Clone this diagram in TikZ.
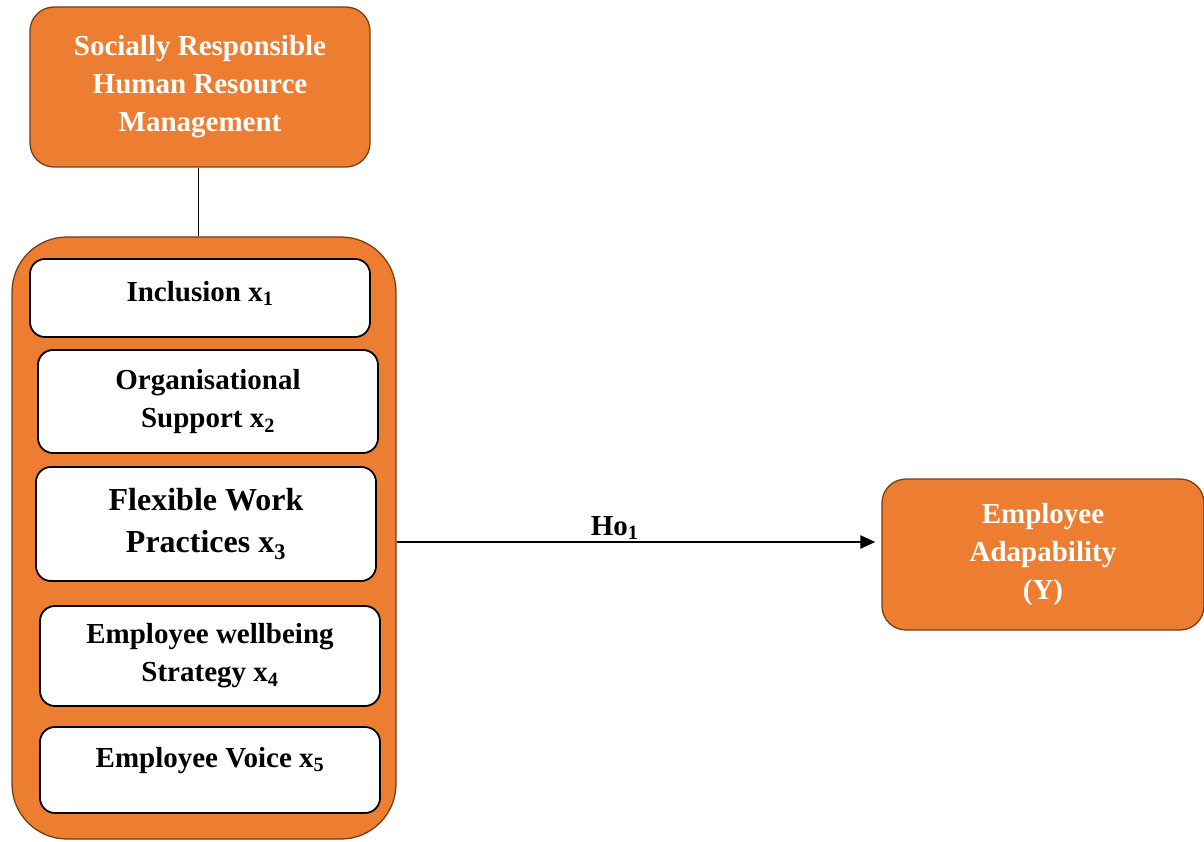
\documentclass[tikz,border=0pt]{standalone}
\usepackage{fontspec}
\setmainfont{Liberation Serif}
\usepackage{tikz}
\usetikzlibrary{arrows.meta}

\definecolor{srorange}{RGB}{237,125,49}
\definecolor{srbrown}{RGB}{120,62,22}

\begin{document}
\begin{tikzpicture}[x=1pt, y=-1pt,
    orangebox/.style={draw=srbrown, line width=1.3pt, fill=srorange, rounded corners=24pt,
        text=white, align=center, font=\fontsize{29}{38}\selectfont\bfseries, inner sep=0pt},
    itembox/.style={draw=black, line width=1.8pt, fill=white, rounded corners=15pt,
        minimum width=340pt, align=center, font=\fontsize{29}{38}\selectfont\bfseries, inner sep=0pt}]
    \useasboundingbox (0,0) rectangle (1204,842);
    % orange boxes
    \node[orangebox, minimum width=340pt, minimum height=160pt] (srhrm) at (200,87)
        {Socially Responsible\\Human Resource\\Management};
    \node[orangebox, rounded corners=55pt, minimum width=384pt, minimum height=602pt] (dims) at (204,538) {};
    \node[orangebox, minimum width=322pt, minimum height=151pt] (empadapt) at (1043,554.5)
        {Employee\\Adapability\\(Y)};
    % the five dimensions
    \node[itembox, minimum height=78pt, text depth=14pt] (incl) at (200,298) {Inclusion x\textsubscript{1}};
    \node[itembox, minimum height=103pt] (orgsup) at (208,401.5) {Organisational\\Support x\textsubscript{2}};
    \node[itembox, minimum height=114pt, font=\fontsize{32}{42}\selectfont\bfseries] (flexwork) at (206,524)
        {Flexible Work\\Practices x\textsubscript{3}};
    \node[itembox, minimum height=100pt] (wellbeing) at (210,656) {Employee wellbeing\\Strategy x\textsubscript{4}};
    \node[itembox, minimum height=86pt, text depth=26pt] (voice) at (210,770) {Employee Voice x\textsubscript{5}};
    % connectors
    \draw[line width=0.9pt] (srhrm.south -| 198,0) -- (dims.north -| 198,0);
    \draw[line width=2.2pt, -{Triangle[length=15pt, width=13pt]}, shorten >=6pt]
        (dims.east |- 0,542) -- node[pos=0.45, above, inner sep=1pt, font=\fontsize{29}{34}\selectfont\bfseries] (hyp) {Ho\textsubscript{1}}
        (empadapt.west |- 0,542);
\end{tikzpicture}
\end{document}
